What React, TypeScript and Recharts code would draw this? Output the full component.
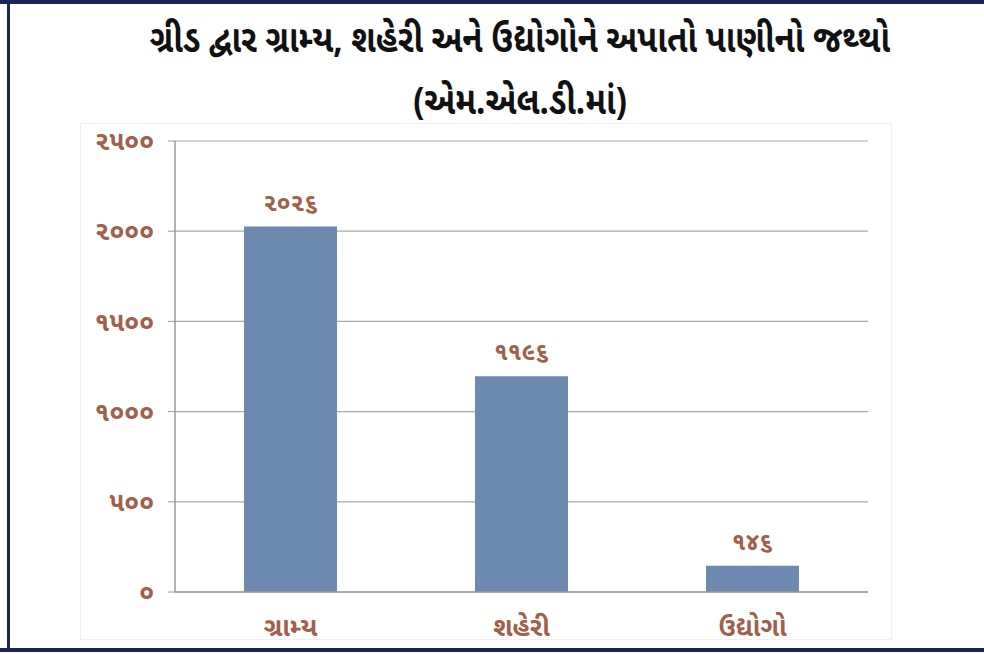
import React from "react";
import {
  BarChart,
  Bar,
  XAxis,
  YAxis,
  CartesianGrid,
  LabelList,
} from "recharts";

const categories = ["ગ્રામ્ય", "શહેરી", "ઉદ્યોગો"];
const supply = [2026, 1196, 146];
const yTicks = [0, 500, 1000, 1500, 2000, 2500];
const edgeTicks = [0, 1, 2, 3];

const titleLine1 = "ગ્રીડ દ્વાર ગ્રામ્ય, શહેરી અને ઉદ્યોગોને અપાતો પાણીનો જથ્થો";
const titleLine2 = "(એમ.એલ.ડી.માં)";

const GU_DIGITS = "૦૧૨૩૪૫૬૭૮૯";
const toGu = (n: number | string) =>
  String(n).replace(/[0-9]/g, (d) => GU_DIGITS[Number(d)]);

const data = categories.map((name, i) => ({ name, value: supply[i] }));

const FONT = '"Noto Sans Gujarati", "Noto Sans", "DejaVu Sans", sans-serif';
const BROWN = "#a1604b";

export default function App() {
  return (
    <div
      style={{
        position: "absolute",
        left: 0,
        top: 0,
        width: 984,
        height: 654,
        background: "#fff",
        fontFamily: FONT,
        overflow: "hidden",
      }}
    >
      {/* frame */}
      <div style={{ position: "absolute", left: 0, top: 0, width: 984, height: 4, background: "#1b2558" }} />
      <div style={{ position: "absolute", left: 7, top: 0, width: 3, height: 652, background: "#1b2558" }} />
      <div style={{ position: "absolute", left: 0, top: 648, width: 984, height: 4, background: "#1b2558" }} />
      <div
        style={{
          position: "absolute",
          left: 80,
          top: 123,
          width: 810,
          height: 515,
          border: "1px solid #f0f0f0",
        }}
      />

      {/* title */}
      <div
        style={{
          position: "absolute",
          left: 10,
          top: 18,
          width: 1020,
          textAlign: "center",
          fontSize: 34,
          fontWeight: 700,
          lineHeight: "56px",
          color: "#111",
          transform: "scale(0.97, 1.12)",
          transformOrigin: "50% 50%",
        }}
      >
        <div>{titleLine1}</div>
        <div>{titleLine2}</div>
      </div>

      <div style={{ position: "absolute", left: 0, top: 0 }}>
        <BarChart
          width={984}
          height={654}
          data={data}
          margin={{ top: 141, right: 116, left: 95, bottom: 22 }}
        >
          <CartesianGrid vertical={false} stroke="#a9a9a9" strokeWidth={1.2} />
          <XAxis
            xAxisId="edges"
            type="number"
            dataKey="value"
            domain={[0, 3]}
            ticks={edgeTicks}
            tick={false}
            tickSize={6}
            axisLine={false}
            tickLine={{ stroke: "#9a9a9a" }}
            height={0}
            allowDataOverflow
          />
          <XAxis
            dataKey="name"
            height={40}
            tickLine={false}
            axisLine={{ stroke: "#9a9a9a", strokeWidth: 1.5 }}
            tick={{ fill: BROWN, fontSize: 26, fontWeight: 700, fontFamily: FONT }}
            dy={18}
          />
          <YAxis
            width={80}
            domain={[0, 2500]}
            ticks={yTicks}
            tickFormatter={toGu}
            tickSize={7}
            tickMargin={14}
            axisLine={{ stroke: "#9a9a9a", strokeWidth: 1.5 }}
            tickLine={{ stroke: "#9a9a9a" }}
            tick={{ fill: BROWN, fontSize: 26, fontWeight: 700, fontFamily: FONT }}
          />
          <Bar
            dataKey="value"
            fill="#6e89b0"
            barSize={93}
            isAnimationActive={false}
          >
            <LabelList
              dataKey="value"
              position="top"
              offset={16}
              formatter={(v: any) => toGu(v)}
              style={{ fill: BROWN, fontSize: 24, fontWeight: 700, fontFamily: FONT }}
            />
          </Bar>
        </BarChart>
      </div>
    </div>
  );
}
